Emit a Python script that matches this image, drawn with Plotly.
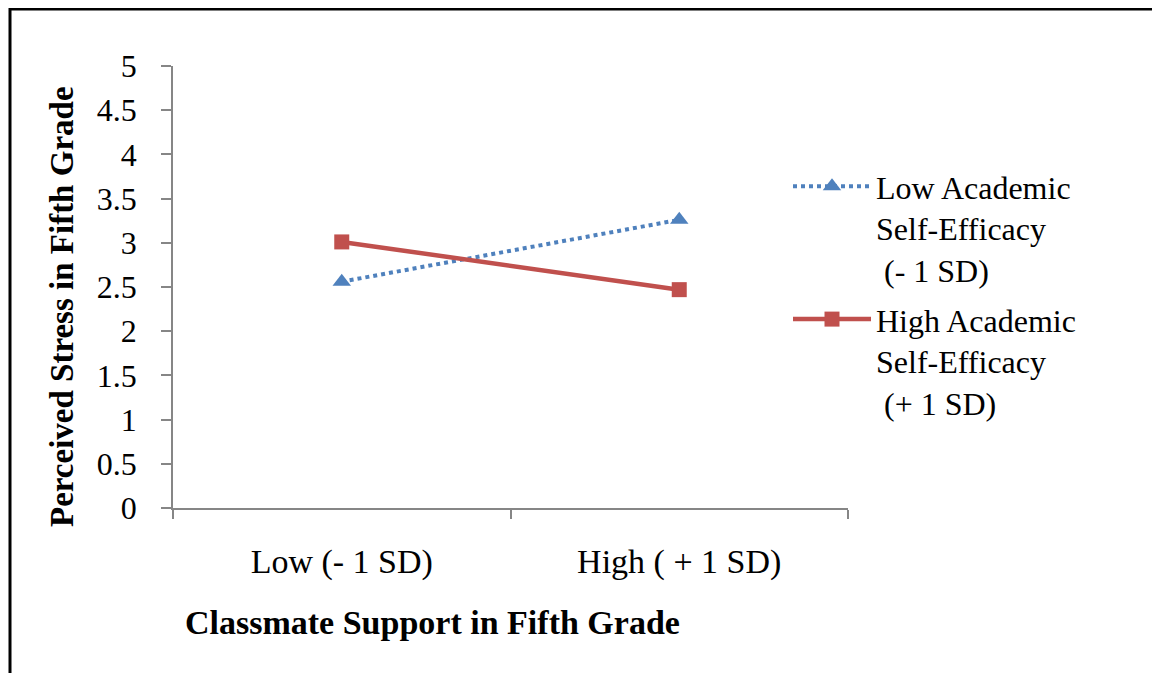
import plotly.graph_objects as go

categories = ["Low (- 1 SD)", "High ( + 1 SD)"]
low_se = [2.56, 3.26]
high_se = [3.01, 2.47]
y_ticks = [0, 0.5, 1, 1.5, 2, 2.5, 3, 3.5, 4, 4.5, 5]
y_tick_labels = ["0", "0.5", "1", "1.5", "2", "2.5", "3", "3.5", "4", "4.5", "5"]
series_names = ["Low Academic<br>Self-Efficacy<br> (- 1 SD)", "High Academic<br>Self-Efficacy<br> (+ 1 SD)"]

OFF = 8  # page offset of the figure in the browser
W, H = 1160 - OFF, 673 - OFF
L, R, T, B = 173 - OFF, 848 - OFF, 66 - OFF, 508 - OFF

FONT = "Liberation Serif, Times New Roman, serif"


def px_x(p):
    return (p - OFF - L) / (R - L)


def px_y(p):
    return (B - (p - OFF)) / (B - T)


fig = go.Figure()
fig.add_trace(go.Scatter(
    x=categories, y=low_se, name=series_names[0], mode="lines+markers",
    legendgroup="a",
    line=dict(color="#4F81BD", width=4, dash="dot"),
    marker=dict(symbol="triangle-up", size=16, color="#4F81BD"),
))
fig.add_trace(go.Scatter(
    x=categories, y=high_se, name=series_names[1], mode="lines+markers",
    legendgroup="b",
    line=dict(color="#C0504D", width=4.5),
    marker=dict(symbol="square", size=15, color="#C0504D"),
))

fig.update_layout(
    width=W, height=H,
    margin=dict(l=L, r=W - R, t=T, b=H - B),
    paper_bgcolor="white", plot_bgcolor="white",
    font=dict(family=FONT, color="black", size=28),
    showlegend=True,
    legend=dict(
        x=px_x(788), y=px_y(159), xanchor="left", yanchor="top",
        font=dict(family=FONT, size=32, color="black"),
        itemwidth=78, valign="top", bgcolor="rgba(0,0,0,0)",
        tracegroupgap=5,
    ),
    xaxis=dict(
        type="category", range=[-0.5, 1.5], showgrid=False, zeroline=False,
        showline=True, linecolor="#868686", linewidth=1.5,
        ticks="outside", tickson="boundaries", ticklen=9, tickcolor="#868686", tickwidth=1.5,
        tickfont=dict(family=FONT, size=34, color="black"),
        ticklabelstandoff=22,
    ),
    yaxis=dict(
        range=[0, 5], tickvals=y_ticks, ticktext=y_tick_labels,
        showgrid=False, zeroline=False, showline=True, linecolor="#868686", linewidth=1.5,
        ticks="outside", ticklen=10, tickcolor="#868686", tickwidth=1.5,
        tickfont=dict(family=FONT, size=32, color="black"),
        ticklabelstandoff=18,
    ),
    annotations=[
        dict(text="<b>Perceived Stress in Fifth Grade</b>", xref="paper", yref="paper",
             x=px_x(62), y=px_y(307), textangle=-90, showarrow=False,
             font=dict(family=FONT, size=33, color="black"), xanchor="center", yanchor="middle"),
        dict(text="<b>Classmate Support in Fifth Grade</b>", xref="paper", yref="paper",
             x=px_x(183), y=px_y(622), showarrow=False,
             font=dict(family=FONT, size=34, color="black"), xanchor="left", yanchor="middle"),
    ],
    shapes=[
        dict(type="path", xref="paper", yref="paper",
             path=(f"M {px_x(10)} {px_y(700)} L {px_x(10)} {px_y(9)} "
                   f"L {px_x(1156)} {px_y(9)} L {px_x(1156)} {px_y(700)}"),
             line=dict(color="black", width=3)),
    ],
)

fig.write_html("out.html")
